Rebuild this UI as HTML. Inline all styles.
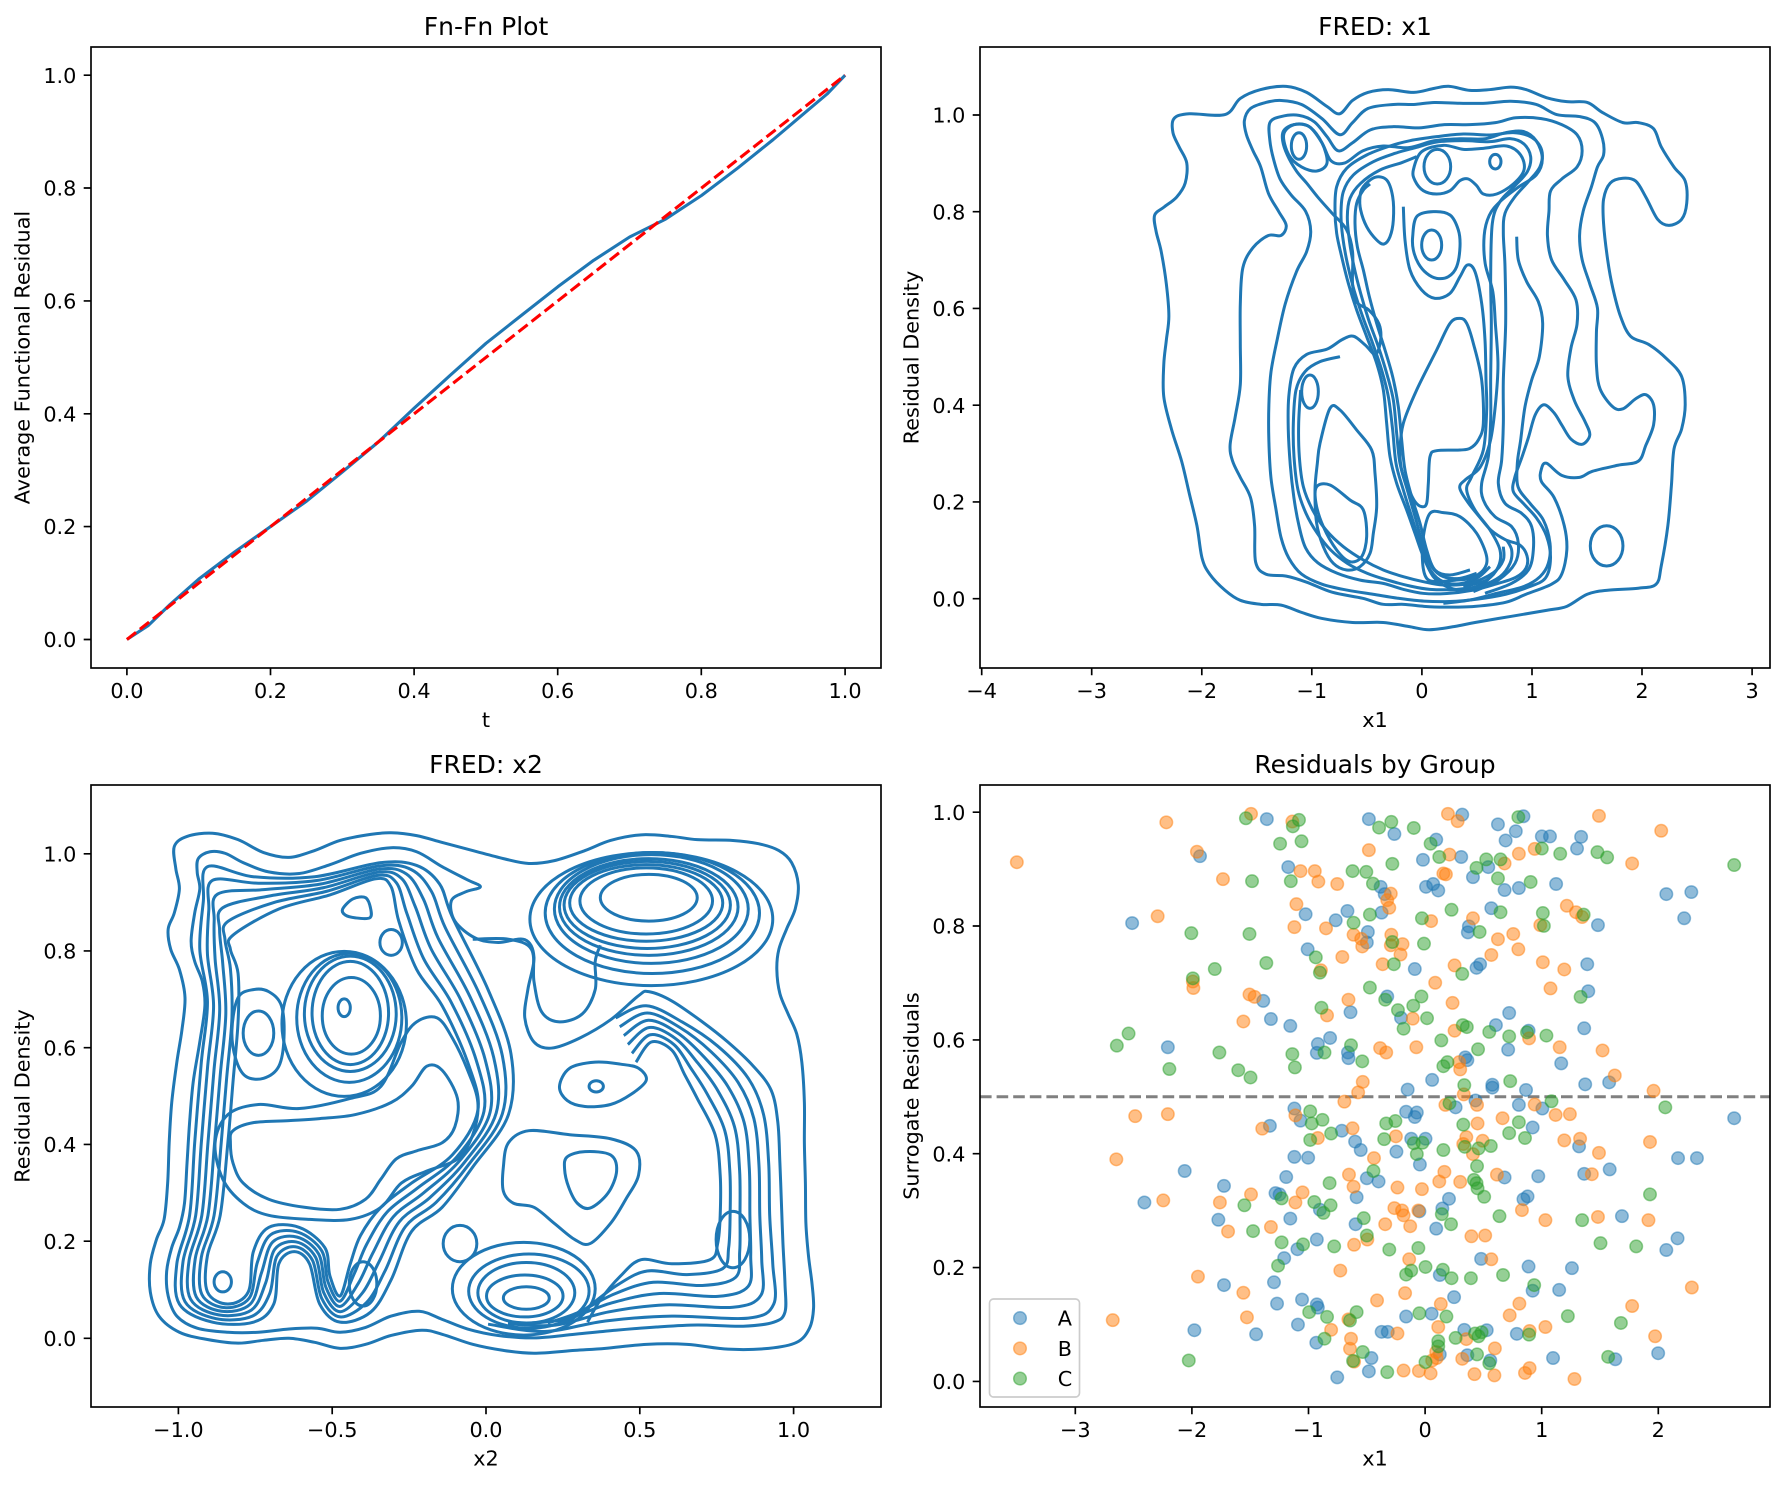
<!DOCTYPE html>
<html><head><meta charset="utf-8"><style>
html,body{margin:0;padding:0;background:#fff}
svg{display:block}
text{font-family:"DejaVu Sans","Liberation Sans",sans-serif;fill:#000}
.t{font-size:20.8px}
.ti{font-size:25px}
.c{fill:none;stroke:#1f77b4;stroke-width:3px;vector-effect:non-scaling-stroke;stroke-linejoin:round}
.sp{fill:none;stroke:#000;stroke-width:1.67px}
.tk{stroke:#000;stroke-width:1.67px;fill:none}
#pb,#po,#pg{vector-effect:non-scaling-stroke;stroke-width:1.5px}
</style></head><body>
<svg width="1785" height="1485" viewBox="0 0 1785 1485" xmlns="http://www.w3.org/2000/svg">
<defs>
<ellipse id="pb" rx="12.25" ry="15.5" fill="rgba(31,119,180,0.5)" stroke="rgba(31,119,180,0.5)"/>
<ellipse id="po" rx="12.25" ry="15.5" fill="rgba(255,127,14,0.5)" stroke="rgba(255,127,14,0.5)"/>
<ellipse id="pg" rx="12.25" ry="15.5" fill="rgba(44,160,44,0.5)" stroke="rgba(44,160,44,0.5)"/>
</defs>
<rect width="1785" height="1485" fill="#fff"/>

<!-- ===== Axes 1: Fn-Fn Plot ===== -->
<polyline fill="none" stroke="#1f77b4" stroke-width="3.1" stroke-linejoin="round" points="126.9,639.5 148.4,625.4 170,604.5 198.7,579.1 234.6,552 270.5,526.6 306.5,501.2 342.4,471.9 378.3,442 414.2,408.1 450.1,375.4 486,343.3 521.9,315 557.8,286.8 593.7,260.3 629.6,237 665.6,219.1 701.5,195.5 737.4,168.3 773.3,139.5 809.2,109.1 827.1,94 845.1,75.2"/>
<line x1="126.9" y1="639.5" x2="845.1" y2="75.2" stroke="#ff0000" stroke-width="3.1" stroke-dasharray="11.6 5"/>

<!-- ===== Axes 2: FRED x1 contours ===== -->
<g transform="translate(975,42) scale(0.5102,0.4031)">
<polygon class="c" points="390,190 420,178 490,180 520,140 560,118 610,110 650,125 690,160 715,178 740,145 770,125 810,118 860,125 900,115 930,110 970,120 1010,118 1050,112 1080,118 1120,138 1160,148 1200,150 1230,175 1270,200 1300,200 1330,215 1345,260 1370,310 1392,345 1395,400 1385,440 1360,455 1338,440 1315,385 1295,345 1270,338 1245,350 1232,390 1232,450 1240,540 1250,610 1265,680 1285,730 1320,750 1355,785 1385,830 1392,900 1385,960 1370,1010 1365,1100 1358,1200 1345,1300 1335,1345 1300,1355 1240,1360 1200,1370 1160,1400 1120,1410 1050,1425 980,1440 940,1450 890,1458 850,1450 800,1440 740,1440 680,1430 640,1415 600,1397 560,1395 520,1385 490,1360 460,1320 445,1280 435,1200 420,1120 405,1040 385,960 370,880 370,800 375,740 380,680 375,600 365,520 355,470 352,430 370,410 395,385 412,350 415,300 400,260 388,225"/>
<polygon class="c" points="528,195 540,165 570,150 600,145 640,155 680,190 715,230 740,200 770,165 820,155 860,155 900,150 950,152 1000,152 1050,147 1100,155 1140,180 1185,185 1215,200 1230,240 1232,280 1220,310 1208,360 1192,420 1185,480 1190,540 1205,600 1220,660 1218,720 1218,800 1225,860 1250,905 1270,910 1295,885 1315,875 1330,900 1330,950 1315,1000 1300,1040 1260,1050 1210,1065 1185,1080 1150,1075 1120,1045 1110,1060 1110,1090 1135,1130 1155,1200 1160,1260 1150,1320 1130,1345 1080,1370 1040,1390 980,1400 920,1402 880,1400 840,1395 800,1395 760,1380 700,1365 650,1340 610,1325 570,1320 550,1290 548,1200 540,1130 520,1080 505,1040 500,1000 510,930 520,850 520,750 520,650 525,560 545,510 575,480 600,480 610,455 595,420 575,375 560,310 545,270 532,230"/>
<polygon class="c" points="578,200 600,185 635,182 665,198 690,235 712,270 740,250 775,218 820,210 870,213 920,205 970,205 1020,200 1060,188 1110,190 1150,205 1180,230 1190,270 1180,310 1150,340 1128,370 1125,420 1122,480 1130,540 1155,590 1178,640 1180,700 1168,760 1162,830 1175,890 1195,940 1205,975 1190,998 1168,985 1150,950 1135,920 1115,900 1098,925 1085,980 1072,1030 1058,1080 1055,1115 1075,1145 1100,1180 1120,1225 1128,1280 1118,1330 1085,1352 1040,1370 985,1382 930,1388 880,1387 830,1380 780,1370 730,1360 680,1345 640,1320 615,1280 600,1230 590,1160 580,1080 576,990 576,900 580,820 592,740 608,650 630,570 650,520 658,470 648,420 620,380 598,340 585,290 578,245"/>
<polygon class="c" points="605,220 625,205 655,210 680,250 698,295 725,300 760,270 800,258 850,262 900,245 950,240 1000,240 1040,225 1075,222 1100,245 1112,290 1100,330 1065,360 1030,395 1008,430 998,480 1000,550 1015,620 1020,700 1025,800 1020,900 1010,990 990,1055 962,1085 950,1105 965,1140 990,1180 1012,1212 1040,1235 1068,1248 1082,1275 1080,1305 1060,1328 1020,1345 975,1360 925,1368 880,1368 840,1358 800,1343 755,1335 710,1318 672,1292 648,1255 635,1200 625,1130 618,1050 614,960 615,880 625,810 650,775 690,762 720,738 742,730 765,752 785,775 795,740 792,700 772,665 748,645 740,600 740,520 728,465 700,425 672,385 650,350 630,320 612,280 603,245"/>
<polygon class="c" points="605,230 625,205 655,210 680,250 690,300 670,320 640,310 615,280"/>
<ellipse class="c" cx="635" cy="258" rx="15" ry="33"/>
<ellipse class="c" cx="1238" cy="1250" rx="32" ry="50"/>
</g>
<g transform="translate(1230,90) scale(0.333333)">
<ellipse class="c" cx="622" cy="230" rx="40" ry="52"/>
<ellipse class="c" cx="796" cy="215" rx="17" ry="22"/>
<ellipse class="c" cx="605" cy="465" rx="30" ry="45"/>
<ellipse class="c" cx="240" cy="905" rx="25" ry="50"/>
<polygon class="c" points="400,290 435,262 470,270 488,320 490,390 480,440 462,462 440,450 410,410 392,360 390,320"/>
<polygon class="c" points="260,1190 300,1185 360,1230 400,1260 410,1340 395,1400 360,1415 320,1380 280,1310 258,1240"/>
<polygon class="c" points="270,1060 300,955 330,960 380,1020 425,1080 435,1150 440,1250 430,1330 420,1390 390,1430 350,1440 310,1420 280,1370 260,1300 255,1200 262,1120"/>
<polygon class="c" points="690,685 710,700 730,760 755,870 760,1000 745,1050 720,1075 690,1080 620,1082 600,1100 595,1180 590,1240 575,1250 555,1235 535,1195 515,1140 510,1080 520,1000 560,900 620,780 660,700"/>
<polygon class="c" points="600,1270 640,1268 690,1280 740,1330 770,1400 760,1440 720,1465 680,1470 620,1475 590,1465 578,1420 580,1340"/>
<polygon class="c" points="550,240 575,185 640,166 700,178 760,175 830,168 872,195 882,240 850,282 800,312 760,312 740,287 715,267 690,272 660,302 620,312 580,302 555,272"/>
<polygon class="c" points="548,440 560,380 610,365 660,375 685,420 690,470 680,530 655,560 620,565 590,550 565,520 550,480"/>
<polyline class="c" points="800,1440 760,1480 700,1500 650,1490 610,1460 580,1400 555,1330 530,1260 500,1180 480,1100 470,1000 460,900 440,820 410,740 380,660 355,580 335,500 320,430 315,360 320,290 350,235 410,195 480,168 540,152 620,140 700,132 780,135 850,128 905,142 935,180 930,230 895,275 855,320 825,370 820,430 825,530 827,700 820,870 820,1000 815,1110 805,1180 825,1240 875,1270 905,1310 910,1380 895,1440 845,1480 765,1510"/>
<polyline class="c" points="780,1430 740,1465 680,1482 630,1470 595,1430 570,1360 545,1280 520,1200 498,1120 488,1020 475,920 455,840 428,760 398,680 372,600 352,520 338,440 333,370 340,305 370,255 430,215 495,190 560,172 620,156 700,152 780,155 840,146 882,162 902,200 892,245 852,290 810,335 787,400 782,560 784,700 782,870 782,990 775,1100 755,1180 760,1230 795,1280 845,1310 865,1360 855,1420 805,1470 730,1505"/>
<polyline class="c" points="740,1450 690,1465 640,1460 605,1430 580,1370 558,1290 532,1200 510,1120 500,1030 490,930 470,850 445,770 416,690 392,610 372,530 358,450 352,380 360,325 392,280 450,240 515,218 560,200"/>
<polyline class="c" points="720,1440 660,1455 615,1440 590,1380 570,1300 545,1220 525,1140 515,1050 505,950 488,860 465,780 440,700 418,620 400,540 382,470 375,400 380,340 400,300 420,282"/>
<polyline class="c" points="520,350 525,450 540,540 575,600 615,625 660,610 690,560 712,525 735,545 755,640 765,750 768,870 770,960 760,1080 725,1160 710,1200 735,1260 780,1320 810,1380 805,1430 770,1470 700,1490"/>
<polyline class="c" points="860,440 865,510 890,575 925,635 938,700 928,800 905,870 885,950 872,1050 862,1120 864,1190 900,1240 940,1290 960,1360 955,1420 930,1460 880,1490 800,1510 720,1530 640,1540"/>
<polyline class="c" points="330,800 270,815 225,845 198,900 190,1000 192,1100 204,1200 228,1270 262,1330 302,1380 352,1420 412,1450 472,1470 540,1488 600,1498 680,1498 750,1488 810,1460 840,1420 845,1380 830,1350"/>
<polyline class="c" points="212,900 206,1000 208,1100 220,1190 248,1260 288,1320 340,1370 400,1410 460,1440 520,1460 580,1475 640,1485 720,1480 790,1448 820,1410 820,1370"/>
</g>

<!-- ===== Axes 3: FRED x2 contours ===== -->
<g transform="translate(85,780) scale(0.5102,0.4031)">
<polygon class="c" points="175,165 200,140 250,132 300,148 350,180 400,192 450,175 500,150 560,135 600,131 650,138 700,155 760,175 820,195 870,207 920,200 980,175 1030,150 1090,136 1150,140 1200,148 1270,150 1320,158 1360,175 1385,205 1398,260 1392,320 1375,370 1360,420 1356,470 1362,530 1378,580 1395,630 1405,700 1410,800 1410,900 1412,1000 1413,1100 1418,1180 1425,1250 1428,1310 1420,1360 1395,1395 1340,1410 1260,1412 1180,1400 1100,1400 1020,1410 960,1415 880,1422 820,1415 760,1400 700,1375 660,1365 600,1378 550,1400 500,1410 450,1395 400,1385 350,1390 300,1397 240,1388 185,1370 145,1330 128,1270 128,1200 140,1140 155,1090 162,1000 165,900 170,800 180,700 190,620 196,540 185,470 168,420 163,370 175,330 185,270 178,220"/>
<polygon class="c" points="222,195 245,178 275,182 310,205 360,228 420,232 480,210 540,182 600,168 650,178 700,215 750,248 775,265 745,278 718,300 725,350 765,392 810,403 862,396 880,440 868,520 862,590 880,650 915,665 970,640 1030,595 1085,535 1105,525 1150,548 1210,600 1260,650 1310,710 1345,770 1358,850 1362,950 1365,1050 1368,1150 1372,1250 1372,1320 1350,1345 1290,1355 1200,1352 1120,1357 1040,1365 960,1375 880,1384 810,1378 750,1362 700,1338 655,1318 600,1330 550,1358 500,1370 455,1360 400,1362 340,1370 280,1370 220,1360 180,1330 163,1280 160,1220 170,1160 185,1110 195,1050 200,950 205,850 212,750 225,650 235,560 230,500 215,450 208,400 215,330 225,270 220,230"/>
<polygon id="a3o" class="c" points="240,215 330,240 450,240 580,205 650,212 695,258 720,340 790,520 835,680 830,830 760,960 700,1060 640,1120 600,1240 560,1320 500,1345 460,1300 440,1200 410,1170 380,1200 370,1300 330,1345 250,1345 185,1300 180,1200 205,1080 215,900 228,700 240,550 225,420 232,300"/>
<polygon id="a3i" class="c" points="290,385 380,320 480,285 570,245 600,265 615,350 650,470 700,560 750,700 770,820 720,930 640,1000 580,1060 540,1130 520,1200 500,1280 480,1230 470,1160 420,1110 360,1110 330,1170 320,1270 280,1300 240,1270 240,1180 265,1080 280,900 290,750 300,600 300,480 285,420"/>
<polyline id="a3ro" class="c" points="1040,590 1100,560 1170,600 1240,660 1300,740 1330,830 1340,950 1342,1080 1348,1200 1350,1300 1300,1335 1150,1330 1020,1342 900,1368 790,1350"/>
<polyline id="a3ri" class="c" points="1080,700 1110,650 1150,670 1175,730 1200,790 1235,880 1245,980 1245,1080 1240,1150 1225,1190 1150,1200 1090,1190 1050,1230 1010,1290 985,1345"/>
<ellipse class="c" cx="508" cy="565" rx="12" ry="22"/>
<ellipse class="c" cx="522" cy="585" rx="57" ry="95"/>
<ellipse class="c" cx="520" cy="578" rx="75" ry="128"/>
<ellipse class="c" cx="520" cy="580" rx="90" ry="143"/>
<ellipse class="c" cx="518" cy="590" rx="103" ry="160"/>
<ellipse class="c" cx="508" cy="605" rx="122" ry="180"/>
<ellipse class="c" cx="340" cy="628" rx="30" ry="55"/>
<polygon class="c" points="300,540 330,520 360,525 385,560 390,640 380,710 350,740 315,735 295,690 288,620"/>
<polygon class="c" points="505,320 525,295 550,292 560,320 558,342 530,342 510,335"/>
<ellipse class="c" cx="600" cy="403" rx="22" ry="32"/>
<polygon class="c" points="290,870 330,850 400,845 460,840 530,830 600,800 640,760 670,710 700,720 730,790 725,860 700,900 650,920 610,940 580,990 550,1040 500,1065 430,1060 360,1040 310,1000 290,950 285,900"/>
<polygon class="c" points="280,830 340,805 420,815 520,790 580,760 620,650 650,600 690,590 720,640 750,720 770,800 760,880 730,940 670,970 620,1000 580,1060 520,1090 440,1090 360,1080 310,1050 270,990 255,900"/>
<ellipse class="c" cx="1105" cy="292" rx="95" ry="58"/>
<ellipse class="c" cx="1100" cy="300" rx="130" ry="82"/>
<ellipse class="c" cx="1100" cy="305" rx="150" ry="95"/>
<ellipse class="c" cx="1102" cy="310" rx="163" ry="108"/>
<ellipse class="c" cx="1105" cy="315" rx="175" ry="120"/>
<ellipse class="c" cx="1110" cy="320" rx="190" ry="135"/>
<ellipse class="c" cx="1112" cy="330" rx="210" ry="150"/>
<ellipse class="c" cx="1110" cy="345" rx="238" ry="165"/>
<ellipse class="c" cx="865" cy="1285" rx="45" ry="28"/>
<ellipse class="c" cx="862" cy="1280" rx="75" ry="52"/>
<ellipse class="c" cx="865" cy="1272" rx="95" ry="75"/>
<ellipse class="c" cx="870" cy="1268" rx="118" ry="92"/>
<ellipse class="c" cx="860" cy="1262" rx="140" ry="115"/>
<ellipse class="c" cx="735" cy="1150" rx="33" ry="45"/>
<ellipse class="c" cx="545" cy="1250" rx="27" ry="55"/>
<ellipse class="c" cx="1270" cy="1140" rx="33" ry="70"/>
<ellipse class="c" cx="270" cy="1245" rx="17" ry="25"/>
<ellipse class="c" cx="1002" cy="760" rx="14" ry="14"/>
<polygon class="c" points="930,760 950,715 1000,700 1050,705 1085,715 1100,745 1070,780 1030,805 980,810 945,795"/>
<polygon class="c" points="945,935 980,922 1030,930 1042,970 1025,1025 990,1062 965,1050 948,1010 940,965"/>
<polygon class="c" points="830,900 870,870 950,880 1030,890 1080,920 1085,980 1060,1040 1030,1100 990,1150 960,1140 920,1100 880,1060 840,1050 820,1020 820,960"/>
<polyline class="c" points="760,395 830,395 875,420 880,500 895,575 930,600 975,580 1000,520 1000,450 1010,410"/>
</g>

<!-- ===== Axes 4: scatter ===== -->
<line x1="980" y1="1096.8" x2="1770" y2="1096.8" stroke="#808080" stroke-width="3" stroke-dasharray="11.6 5"/>
<g transform="translate(975,780) scale(0.5102,0.4031)">
<g>
<use href="#pb" x="572" y="97"/><use href="#pb" x="772" y="97"/><use href="#pb" x="822" y="134"/><use href="#pb" x="955" y="86"/><use href="#pb" x="1025" y="110"/><use href="#pb" x="1075" y="90"/><use href="#pb" x="1060" y="127"/><use href="#pb" x="1040" y="150"/><use href="#pb" x="1111" y="140"/><use href="#pb" x="1127" y="140"/><use href="#pb" x="1188" y="141"/><use href="#pb" x="904" y="148"/><use href="#pb" x="441" y="189"/><use href="#pb" x="1180" y="170"/><use href="#pb" x="878" y="198"/><use href="#pb" x="953" y="191"/><use href="#pb" x="614" y="216"/><use href="#pb" x="1006" y="216"/><use href="#pb" x="976" y="241"/><use href="#pb" x="795" y="265"/><use href="#pb" x="1139" y="258"/><use href="#pb" x="884" y="265"/><use href="#pb" x="898" y="258"/><use href="#pb" x="908" y="274"/><use href="#pb" x="1038" y="273"/><use href="#pb" x="1066" y="268"/><use href="#pb" x="803" y="283"/><use href="#pb" x="1355" y="283"/><use href="#pb" x="1404" y="278"/><use href="#pb" x="648" y="333"/><use href="#pb" x="730" y="325"/><use href="#pb" x="797" y="329"/><use href="#pb" x="1012" y="318"/><use href="#pb" x="1390" y="343"/><use href="#pb" x="308" y="355"/><use href="#pb" x="707" y="348"/><use href="#pb" x="968" y="363"/><use href="#pb" x="966" y="378"/><use href="#pb" x="1221" y="360"/><use href="#pb" x="770" y="377"/><use href="#pb" x="768" y="403"/><use href="#pb" x="652" y="420"/><use href="#pb" x="862" y="469"/><use href="#pb" x="983" y="466"/><use href="#pb" x="990" y="457"/><use href="#pb" x="1200" y="457"/><use href="#pb" x="1202" y="524"/><use href="#pb" x="565" y="548"/><use href="#pb" x="808" y="537"/><use href="#pb" x="736" y="576"/><use href="#pb" x="835" y="590"/><use href="#pb" x="1047" y="578"/><use href="#pb" x="580" y="593"/><use href="#pb" x="618" y="610"/><use href="#pb" x="1021" y="608"/><use href="#pb" x="1085" y="622"/><use href="#pb" x="1194" y="616"/><use href="#pb" x="378" y="663"/><use href="#pb" x="672" y="655"/><use href="#pb" x="670" y="677"/><use href="#pb" x="696" y="640"/><use href="#pb" x="731" y="676"/><use href="#pb" x="732" y="690"/><use href="#pb" x="1045" y="669"/><use href="#pb" x="961" y="688"/><use href="#pb" x="965" y="695"/><use href="#pb" x="1149" y="703"/><use href="#pb" x="848" y="768"/><use href="#pb" x="896" y="744"/><use href="#pb" x="1014" y="756"/><use href="#pb" x="1014" y="763"/><use href="#pb" x="1080" y="769"/><use href="#pb" x="1196" y="755"/><use href="#pb" x="1243" y="750"/><use href="#pb" x="981" y="795"/><use href="#pb" x="1066" y="806"/><use href="#pb" x="1112" y="815"/><use href="#pb" x="1488" y="839"/><use href="#pb" x="626" y="815"/><use href="#pb" x="638" y="845"/><use href="#pb" x="578" y="858"/><use href="#pb" x="845" y="823"/><use href="#pb" x="866" y="825"/><use href="#pb" x="862" y="836"/><use href="#pb" x="942" y="812"/><use href="#pb" x="719" y="870"/><use href="#pb" x="1093" y="862"/><use href="#pb" x="1184" y="909"/><use href="#pb" x="855" y="890"/><use href="#pb" x="883" y="890"/><use href="#pb" x="745" y="897"/><use href="#pb" x="756" y="918"/><use href="#pb" x="626" y="935"/><use href="#pb" x="653" y="937"/><use href="#pb" x="826" y="922"/><use href="#pb" x="872" y="954"/><use href="#pb" x="1378" y="938"/><use href="#pb" x="1415" y="938"/><use href="#pb" x="411" y="970"/><use href="#pb" x="1244" y="966"/><use href="#pb" x="768" y="988"/><use href="#pb" x="791" y="996"/><use href="#pb" x="610" y="985"/><use href="#pb" x="1038" y="986"/><use href="#pb" x="1104" y="983"/><use href="#pb" x="1194" y="977"/><use href="#pb" x="488" y="1007"/><use href="#pb" x="589" y="1025"/><use href="#pb" x="597" y="1028"/><use href="#pb" x="748" y="1035"/><use href="#pb" x="929" y="1039"/><use href="#pb" x="1075" y="1040"/><use href="#pb" x="1083" y="1033"/><use href="#pb" x="332" y="1048"/><use href="#pb" x="676" y="1066"/><use href="#pb" x="871" y="1070"/><use href="#pb" x="916" y="1063"/><use href="#pb" x="618" y="1088"/><use href="#pb" x="477" y="1091"/><use href="#pb" x="746" y="1102"/><use href="#pb" x="904" y="1113"/><use href="#pb" x="1268" y="1082"/><use href="#pb" x="670" y="1140"/><use href="#pb" x="632" y="1164"/><use href="#pb" x="1377" y="1137"/><use href="#pb" x="1355" y="1166"/><use href="#pb" x="606" y="1186"/><use href="#pb" x="992" y="1188"/><use href="#pb" x="911" y="1228"/><use href="#pb" x="1085" y="1207"/><use href="#pb" x="1170" y="1211"/><use href="#pb" x="488" y="1253"/><use href="#pb" x="586" y="1246"/><use href="#pb" x="1093" y="1267"/><use href="#pb" x="1145" y="1265"/><use href="#pb" x="939" y="1283"/><use href="#pb" x="592" y="1299"/><use href="#pb" x="641" y="1289"/><use href="#pb" x="670" y="1301"/><use href="#pb" x="672" y="1309"/><use href="#pb" x="845" y="1331"/><use href="#pb" x="895" y="1324"/><use href="#pb" x="633" y="1351"/><use href="#pb" x="430" y="1365"/><use href="#pb" x="551" y="1375"/><use href="#pb" x="797" y="1369"/><use href="#pb" x="809" y="1369"/><use href="#pb" x="959" y="1364"/><use href="#pb" x="1003" y="1365"/><use href="#pb" x="1062" y="1374"/><use href="#pb" x="669" y="1396"/><use href="#pb" x="911" y="1425"/><use href="#pb" x="777" y="1434"/><use href="#pb" x="965" y="1427"/><use href="#pb" x="1010" y="1440"/><use href="#pb" x="1133" y="1434"/><use href="#pb" x="1255" y="1437"/><use href="#pb" x="1339" y="1422"/><use href="#pb" x="710" y="1482"/><use href="#pb" x="772" y="1467"/>
</g>
<g>
<use href="#po" x="82" y="204"/><use href="#po" x="375" y="105"/><use href="#po" x="541" y="84"/><use href="#po" x="622" y="103"/><use href="#po" x="927" y="84"/><use href="#po" x="946" y="102"/><use href="#po" x="1223" y="89"/><use href="#po" x="1345" y="126"/><use href="#po" x="772" y="174"/><use href="#po" x="435" y="178"/><use href="#po" x="1097" y="171"/><use href="#po" x="1288" y="207"/><use href="#po" x="930" y="185"/><use href="#po" x="1038" y="207"/><use href="#po" x="1066" y="183"/><use href="#po" x="638" y="226"/><use href="#po" x="666" y="226"/><use href="#po" x="918" y="232"/><use href="#po" x="923" y="234"/><use href="#po" x="486" y="246"/><use href="#po" x="673" y="252"/><use href="#po" x="710" y="258"/><use href="#po" x="815" y="282"/><use href="#po" x="808" y="298"/><use href="#po" x="812" y="317"/><use href="#po" x="630" y="308"/><use href="#po" x="1160" y="312"/><use href="#po" x="1178" y="328"/><use href="#po" x="1190" y="340"/><use href="#po" x="358" y="338"/><use href="#po" x="894" y="350"/><use href="#po" x="976" y="343"/><use href="#po" x="1108" y="360"/><use href="#po" x="626" y="365"/><use href="#po" x="688" y="368"/><use href="#po" x="742" y="384"/><use href="#po" x="757" y="394"/><use href="#po" x="759" y="413"/><use href="#po" x="816" y="384"/><use href="#po" x="815" y="410"/><use href="#po" x="838" y="407"/><use href="#po" x="834" y="433"/><use href="#po" x="1025" y="395"/><use href="#po" x="1055" y="382"/><use href="#po" x="1065" y="420"/><use href="#po" x="720" y="439"/><use href="#po" x="1012" y="434"/><use href="#po" x="799" y="457"/><use href="#po" x="940" y="460"/><use href="#po" x="1113" y="452"/><use href="#po" x="1155" y="470"/><use href="#po" x="678" y="472"/><use href="#po" x="427" y="500"/><use href="#po" x="428" y="516"/><use href="#po" x="902" y="503"/><use href="#po" x="1128" y="517"/><use href="#po" x="538" y="532"/><use href="#po" x="548" y="538"/><use href="#po" x="732" y="545"/><use href="#po" x="936" y="553"/><use href="#po" x="690" y="584"/><use href="#po" x="858" y="592"/><use href="#po" x="526" y="599"/><use href="#po" x="940" y="622"/><use href="#po" x="1086" y="641"/><use href="#po" x="794" y="665"/><use href="#po" x="806" y="676"/><use href="#po" x="865" y="663"/><use href="#po" x="1146" y="663"/><use href="#po" x="1230" y="671"/><use href="#po" x="949" y="700"/><use href="#po" x="951" y="718"/><use href="#po" x="1254" y="733"/><use href="#po" x="760" y="749"/><use href="#po" x="751" y="775"/><use href="#po" x="958" y="780"/><use href="#po" x="1330" y="771"/><use href="#po" x="724" y="798"/><use href="#po" x="922" y="806"/><use href="#po" x="984" y="806"/><use href="#po" x="1097" y="805"/><use href="#po" x="314" y="834"/><use href="#po" x="378" y="829"/><use href="#po" x="628" y="832"/><use href="#po" x="563" y="865"/><use href="#po" x="985" y="852"/><use href="#po" x="1034" y="839"/><use href="#po" x="1138" y="831"/><use href="#po" x="1166" y="829"/><use href="#po" x="740" y="864"/><use href="#po" x="672" y="888"/><use href="#po" x="1155" y="894"/><use href="#po" x="1186" y="890"/><use href="#po" x="1323" y="898"/><use href="#po" x="825" y="884"/><use href="#po" x="963" y="886"/><use href="#po" x="957" y="903"/><use href="#po" x="995" y="895"/><use href="#po" x="976" y="928"/><use href="#po" x="1223" y="925"/><use href="#po" x="277" y="941"/><use href="#po" x="782" y="938"/><use href="#po" x="733" y="979"/><use href="#po" x="920" y="972"/><use href="#po" x="910" y="996"/><use href="#po" x="951" y="997"/><use href="#po" x="1023" y="979"/><use href="#po" x="1209" y="978"/><use href="#po" x="742" y="1009"/><use href="#po" x="828" y="1011"/><use href="#po" x="876" y="1015"/><use href="#po" x="541" y="1028"/><use href="#po" x="642" y="1023"/><use href="#po" x="369" y="1043"/><use href="#po" x="480" y="1048"/><use href="#po" x="628" y="1048"/><use href="#po" x="822" y="1062"/><use href="#po" x="837" y="1068"/><use href="#po" x="840" y="1080"/><use href="#po" x="869" y="1068"/><use href="#po" x="1072" y="1067"/><use href="#po" x="496" y="1120"/><use href="#po" x="580" y="1109"/><use href="#po" x="804" y="1102"/><use href="#po" x="853" y="1107"/><use href="#po" x="1118" y="1092"/><use href="#po" x="1221" y="1084"/><use href="#po" x="1320" y="1092"/><use href="#po" x="769" y="1140"/><use href="#po" x="743" y="1153"/><use href="#po" x="973" y="1132"/><use href="#po" x="1000" y="1130"/><use href="#po" x="851" y="1189"/><use href="#po" x="1012" y="1189"/><use href="#po" x="716" y="1217"/><use href="#po" x="437" y="1232"/><use href="#po" x="1405" y="1259"/><use href="#po" x="526" y="1272"/><use href="#po" x="843" y="1273"/><use href="#po" x="788" y="1291"/><use href="#po" x="913" y="1300"/><use href="#po" x="1067" y="1299"/><use href="#po" x="1288" y="1305"/><use href="#po" x="732" y="1338"/><use href="#po" x="1048" y="1328"/><use href="#po" x="270" y="1340"/><use href="#po" x="533" y="1333"/><use href="#po" x="908" y="1357"/><use href="#po" x="1118" y="1357"/><use href="#po" x="698" y="1364"/><use href="#po" x="828" y="1373"/><use href="#po" x="963" y="1387"/><use href="#po" x="1087" y="1367"/><use href="#po" x="1333" y="1380"/><use href="#po" x="737" y="1386"/><use href="#po" x="735" y="1411"/><use href="#po" x="904" y="1419"/><use href="#po" x="1019" y="1410"/><use href="#po" x="743" y="1443"/><use href="#po" x="896" y="1440"/><use href="#po" x="905" y="1434"/><use href="#po" x="955" y="1436"/><use href="#po" x="840" y="1465"/><use href="#po" x="870" y="1466"/><use href="#po" x="893" y="1472"/><use href="#po" x="979" y="1474"/><use href="#po" x="1018" y="1477"/><use href="#po" x="1078" y="1471"/><use href="#po" x="1087" y="1459"/><use href="#po" x="1175" y="1486"/>
</g>
<g>
<use href="#pg" x="531" y="95"/><use href="#pg" x="623" y="115"/><use href="#pg" x="635" y="99"/><use href="#pg" x="640" y="152"/><use href="#pg" x="598" y="158"/><use href="#pg" x="816" y="104"/><use href="#pg" x="792" y="118"/><use href="#pg" x="860" y="119"/><use href="#pg" x="1065" y="92"/><use href="#pg" x="893" y="158"/><use href="#pg" x="1111" y="170"/><use href="#pg" x="1147" y="183"/><use href="#pg" x="1220" y="179"/><use href="#pg" x="1239" y="192"/><use href="#pg" x="1488" y="211"/><use href="#pg" x="910" y="191"/><use href="#pg" x="1002" y="197"/><use href="#pg" x="1030" y="197"/><use href="#pg" x="818" y="208"/><use href="#pg" x="740" y="226"/><use href="#pg" x="767" y="228"/><use href="#pg" x="983" y="218"/><use href="#pg" x="543" y="251"/><use href="#pg" x="619" y="251"/><use href="#pg" x="780" y="257"/><use href="#pg" x="1025" y="244"/><use href="#pg" x="1089" y="253"/><use href="#pg" x="774" y="334"/><use href="#pg" x="934" y="322"/><use href="#pg" x="1030" y="328"/><use href="#pg" x="1193" y="334"/><use href="#pg" x="1113" y="330"/><use href="#pg" x="742" y="354"/><use href="#pg" x="876" y="343"/><use href="#pg" x="989" y="377"/><use href="#pg" x="1115" y="362"/><use href="#pg" x="424" y="380"/><use href="#pg" x="538" y="382"/><use href="#pg" x="818" y="402"/><use href="#pg" x="880" y="406"/><use href="#pg" x="668" y="440"/><use href="#pg" x="571" y="454"/><use href="#pg" x="470" y="469"/><use href="#pg" x="821" y="457"/><use href="#pg" x="955" y="481"/><use href="#pg" x="676" y="478"/><use href="#pg" x="427" y="492"/><use href="#pg" x="774" y="515"/><use href="#pg" x="1187" y="538"/><use href="#pg" x="804" y="545"/><use href="#pg" x="875" y="537"/><use href="#pg" x="859" y="560"/><use href="#pg" x="679" y="565"/><use href="#pg" x="829" y="571"/><use href="#pg" x="886" y="591"/><use href="#pg" x="840" y="617"/><use href="#pg" x="956" y="608"/><use href="#pg" x="964" y="613"/><use href="#pg" x="1082" y="626"/><use href="#pg" x="1008" y="625"/><use href="#pg" x="1047" y="636"/><use href="#pg" x="1120" y="634"/><use href="#pg" x="301" y="629"/><use href="#pg" x="278" y="659"/><use href="#pg" x="685" y="676"/><use href="#pg" x="737" y="658"/><use href="#pg" x="759" y="698"/><use href="#pg" x="914" y="646"/><use href="#pg" x="986" y="668"/><use href="#pg" x="479" y="676"/><use href="#pg" x="622" y="680"/><use href="#pg" x="627" y="713"/><use href="#pg" x="381" y="717"/><use href="#pg" x="516" y="720"/><use href="#pg" x="540" y="738"/><use href="#pg" x="918" y="710"/><use href="#pg" x="926" y="700"/><use href="#pg" x="959" y="757"/><use href="#pg" x="1049" y="747"/><use href="#pg" x="930" y="802"/><use href="#pg" x="1130" y="797"/><use href="#pg" x="1353" y="812"/><use href="#pg" x="657" y="822"/><use href="#pg" x="660" y="852"/><use href="#pg" x="681" y="843"/><use href="#pg" x="824" y="846"/><use href="#pg" x="806" y="852"/><use href="#pg" x="957" y="855"/><use href="#pg" x="1066" y="849"/><use href="#pg" x="698" y="877"/><use href="#pg" x="657" y="893"/><use href="#pg" x="1047" y="876"/><use href="#pg" x="1078" y="888"/><use href="#pg" x="802" y="891"/><use href="#pg" x="877" y="900"/><use href="#pg" x="860" y="901"/><use href="#pg" x="866" y="928"/><use href="#pg" x="960" y="910"/><use href="#pg" x="987" y="914"/><use href="#pg" x="1011" y="908"/><use href="#pg" x="918" y="918"/><use href="#pg" x="984" y="958"/><use href="#pg" x="781" y="970"/><use href="#pg" x="695" y="1000"/><use href="#pg" x="983" y="1000"/><use href="#pg" x="978" y="992"/><use href="#pg" x="985" y="1013"/><use href="#pg" x="601" y="1038"/><use href="#pg" x="998" y="1034"/><use href="#pg" x="1323" y="1028"/><use href="#pg" x="528" y="1055"/><use href="#pg" x="665" y="1047"/><use href="#pg" x="683" y="1074"/><use href="#pg" x="697" y="1055"/><use href="#pg" x="915" y="1077"/><use href="#pg" x="545" y="1119"/><use href="#pg" x="762" y="1087"/><use href="#pg" x="933" y="1102"/><use href="#pg" x="1028" y="1082"/><use href="#pg" x="1190" y="1092"/><use href="#pg" x="768" y="1130"/><use href="#pg" x="643" y="1152"/><use href="#pg" x="601" y="1147"/><use href="#pg" x="704" y="1157"/><use href="#pg" x="812" y="1165"/><use href="#pg" x="869" y="1161"/><use href="#pg" x="1226" y="1149"/><use href="#pg" x="1296" y="1157"/><use href="#pg" x="594" y="1205"/><use href="#pg" x="883" y="1208"/><use href="#pg" x="855" y="1217"/><use href="#pg" x="845" y="1227"/><use href="#pg" x="917" y="1215"/><use href="#pg" x="934" y="1236"/><use href="#pg" x="972" y="1236"/><use href="#pg" x="1035" y="1228"/><use href="#pg" x="1096" y="1253"/><use href="#pg" x="655" y="1320"/><use href="#pg" x="690" y="1332"/><use href="#pg" x="748" y="1320"/><use href="#pg" x="735" y="1341"/><use href="#pg" x="871" y="1323"/><use href="#pg" x="924" y="1331"/><use href="#pg" x="1162" y="1330"/><use href="#pg" x="1266" y="1347"/><use href="#pg" x="980" y="1373"/><use href="#pg" x="993" y="1370"/><use href="#pg" x="987" y="1380"/><use href="#pg" x="942" y="1384"/><use href="#pg" x="1086" y="1376"/><use href="#pg" x="685" y="1386"/><use href="#pg" x="908" y="1392"/><use href="#pg" x="908" y="1405"/><use href="#pg" x="760" y="1419"/><use href="#pg" x="419" y="1440"/><use href="#pg" x="741" y="1441"/><use href="#pg" x="883" y="1444"/><use href="#pg" x="984" y="1425"/><use href="#pg" x="1008" y="1447"/><use href="#pg" x="1241" y="1431"/><use href="#pg" x="808" y="1469"/>
</g>
</g>

<!-- Legend -->
<rect x="989.5" y="1299" width="90" height="98" rx="4" ry="4" fill="rgba(255,255,255,0.8)" stroke="#cccccc" stroke-width="1.67"/>
<circle cx="1020" cy="1318.1" r="6.3" fill="rgba(31,119,180,0.5)" stroke="rgba(31,119,180,0.5)" stroke-width="1.5"/>
<circle cx="1020" cy="1348.4" r="6.3" fill="rgba(255,127,14,0.5)" stroke="rgba(255,127,14,0.5)" stroke-width="1.5"/>
<circle cx="1020" cy="1378.6" r="6.3" fill="rgba(44,160,44,0.5)" stroke="rgba(44,160,44,0.5)" stroke-width="1.5"/>
<text class="t" x="1057.7" y="1325.7">A</text>
<text class="t" x="1057.7" y="1356">B</text>
<text class="t" x="1057.7" y="1386.2">C</text>

<!-- ===== Spines ===== -->
<rect class="sp" x="91" y="47" width="790" height="621"/>
<rect class="sp" x="980" y="47" width="790" height="621"/>
<rect class="sp" x="91" y="785" width="790" height="622"/>
<rect class="sp" x="980" y="785" width="790" height="622"/>

<!-- ===== Ticks ===== -->
<path class="tk" d="
M83.7,639.5H91 M83.7,526.6H91 M83.7,413.8H91 M83.7,300.9H91 M83.7,188H91 M83.7,75.2H91
M126.9,668V675.3 M270.5,668V675.3 M414.1,668V675.3 M557.7,668V675.3 M701.3,668V675.3 M845.1,668V675.3
M972.7,598.7H980 M972.7,501.9H980 M972.7,405.2H980 M972.7,308.4H980 M972.7,211.7H980 M972.7,115H980
M981.7,668V675.3 M1091.7,668V675.3 M1201.8,668V675.3 M1311.8,668V675.3 M1421.9,668V675.3 M1532,668V675.3 M1642,668V675.3 M1752.1,668V675.3
M83.7,1338.3H91 M83.7,1241.2H91 M83.7,1144.4H91 M83.7,1047.7H91 M83.7,950.9H91 M83.7,853.8H91
M178.4,1407V1414.3 M332.2,1407V1414.3 M486,1407V1414.3 M639.8,1407V1414.3 M793.6,1407V1414.3
M972.7,1381.4H980 M972.7,1267.6H980 M972.7,1153.7H980 M972.7,1039.9H980 M972.7,926H980 M972.7,812.2H980
M1075.3,1407V1414.3 M1191.9,1407V1414.3 M1308.5,1407V1414.3 M1425.1,1407V1414.3 M1541.7,1407V1414.3 M1658.3,1407V1414.3"/>

<!-- ===== Tick labels ===== -->
<g class="t" text-anchor="end">
<text x="76.4" y="647.1">0.0</text><text x="76.4" y="534.2">0.2</text><text x="76.4" y="421.4">0.4</text><text x="76.4" y="308.5">0.6</text><text x="76.4" y="195.6">0.8</text><text x="76.4" y="82.8">1.0</text>
<text x="965.4" y="606.3">0.0</text><text x="965.4" y="509.5">0.2</text><text x="965.4" y="412.8">0.4</text><text x="965.4" y="316">0.6</text><text x="965.4" y="219.3">0.8</text><text x="965.4" y="122.6">1.0</text>
<text x="76.4" y="1345.9">0.0</text><text x="76.4" y="1248.8">0.2</text><text x="76.4" y="1152">0.4</text><text x="76.4" y="1055.3">0.6</text><text x="76.4" y="958.5">0.8</text><text x="76.4" y="861.4">1.0</text>
<text x="965.4" y="1389">0.0</text><text x="965.4" y="1275.2">0.2</text><text x="965.4" y="1161.3">0.4</text><text x="965.4" y="1047.5">0.6</text><text x="965.4" y="933.6">0.8</text><text x="965.4" y="819.8">1.0</text>
</g>
<g class="t" text-anchor="middle">
<text x="126.9" y="697.8">0.0</text><text x="270.5" y="697.8">0.2</text><text x="414.1" y="697.8">0.4</text><text x="557.7" y="697.8">0.6</text><text x="701.3" y="697.8">0.8</text><text x="845.1" y="697.8">1.0</text>
<text x="981.7" y="697.8">−4</text><text x="1091.7" y="697.8">−3</text><text x="1201.8" y="697.8">−2</text><text x="1311.8" y="697.8">−1</text><text x="1421.9" y="697.8">0</text><text x="1532" y="697.8">1</text><text x="1642" y="697.8">2</text><text x="1752.1" y="697.8">3</text>
<text x="178.4" y="1436.8">−1.0</text><text x="332.2" y="1436.8">−0.5</text><text x="486" y="1436.8">0.0</text><text x="639.8" y="1436.8">0.5</text><text x="793.6" y="1436.8">1.0</text>
<text x="1075.3" y="1436.8">−3</text><text x="1191.9" y="1436.8">−2</text><text x="1308.5" y="1436.8">−1</text><text x="1425.1" y="1436.8">0</text><text x="1541.7" y="1436.8">1</text><text x="1658.3" y="1436.8">2</text>
<text x="486" y="727">t</text><text x="1375" y="727">x1</text><text x="486" y="1465.5">x2</text><text x="1375" y="1465.5">x1</text>
<text transform="translate(29.5,357.5) rotate(-90)">Average Functional Residual</text>
<text transform="translate(918.5,357.5) rotate(-90)">Residual Density</text>
<text transform="translate(29.5,1096) rotate(-90)">Residual Density</text>
<text transform="translate(918.5,1096) rotate(-90)">Surrogate Residuals</text>
</g>
<g class="ti" text-anchor="middle">
<text x="486" y="35">Fn-Fn Plot</text>
<text x="1375" y="35">FRED: x1</text>
<text x="486" y="773">FRED: x2</text>
<text x="1375" y="773">Residuals by Group</text>
</g>
</svg>
<script>
(function(){
var NS='http://www.w3.org/2000/svg';
function P(el){return el.getAttribute('points').trim().split(/\s+/).map(function(s){return s.split(',').map(Number);});}
function S(p,c){var n=p.length,m=c?n:n-1;function g(i){return c?p[((i%n)+n)%n]:p[Math.max(0,Math.min(n-1,i))];}
var d='M'+p[0][0]+','+p[0][1];
for(var i=0;i<m;i++){var a=g(i-1),b=g(i),q=g(i+1),e=g(i+2);
d+='C'+(b[0]+(q[0]-a[0])/6).toFixed(1)+','+(b[1]+(q[1]-a[1])/6).toFixed(1)+' '+(q[0]-(e[0]-b[0])/6).toFixed(1)+','+(q[1]-(e[1]-b[1])/6).toFixed(1)+' '+q[0]+','+q[1];}
return d+(c?'Z':'');}
try{
var pairs=[['a3o','a3i',4],['a3ro','a3ri',4]];
pairs.forEach(function(r){var A=document.getElementById(r[0]),B=document.getElementById(r[1]);if(!A||!B)return;var pa=P(A),pb=P(B);if(pa.length!==pb.length)return;
for(var k=1;k<=r[2];k++){var t=k/(r[2]+1);var pts=pa.map(function(p,i){return (p[0]+(pb[i][0]-p[0])*t).toFixed(1)+','+(p[1]+(pb[i][1]-p[1])*t).toFixed(1);}).join(' ');
var el=document.createElementNS(NS,A.tagName.toLowerCase());el.setAttribute('points',pts);el.setAttribute('class','c');A.parentNode.insertBefore(el,A);}});
Array.prototype.slice.call(document.querySelectorAll('polygon.c,polyline.c')).forEach(function(el){var p=P(el);if(p.length<3)return;var path=document.createElementNS(NS,'path');path.setAttribute('d',S(p,el.tagName.toLowerCase()==='polygon'));path.setAttribute('class','c');el.parentNode.replaceChild(path,el);});
}catch(e){}
})();
</script>
</body></html>
